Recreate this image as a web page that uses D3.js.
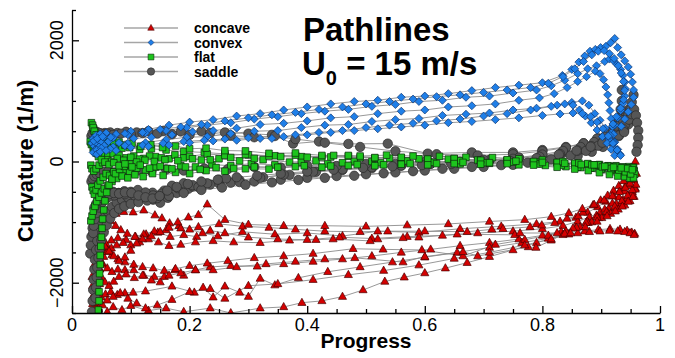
<!DOCTYPE html>
<html><head><meta charset="utf-8">
<script src="https://cdn.jsdelivr.net/npm/d3@7"></script>
<style>body{margin:0;background:#fff}svg{display:block;font-family:Arial,"Liberation Sans",sans-serif}</style>
</head><body><svg id="chart" width="675" height="358"></svg>
<script>
// Axis ticks
const xTicks = [0, 0.2, 0.4, 0.6, 0.8, 1];
const yTicks = [-2000, 0, 2000];
const categories = ["concave", "convex", "flat", "saddle"];

// Pathlines per surface type: each entry is one pathline of [progress, curvature (1/m)]
const concave = [
 [[0.04,-1400],[0.041,-1300],[0.043,-1200],[0.046,-1110],[0.05,-1030],[0.056,-960],[0.064,-900],[0.075,-860],[0.088,-830],[0.104,-836],[0.122,-804],[0.141,-885],[0.153,-935],[0.166,-1017],[0.182,-1060],[0.2,-1120],[0.222,-1180],[0.248,-1230],[0.29,-1160],[0.345,-1200],[0.4,-1180],[0.46,-1230],[0.52,-1150],[0.59,-1170],[0.66,-1110],[0.73,-1070],[0.79,-1030],[0.83,-990],[0.857,-925],[0.877,-840],[0.894,-750],[0.908,-660],[0.921,-570],[0.932,-480],[0.942,-390],[0.95,-300],[0.956,-210]],
 [[0.036,-2050],[0.037,-1900],[0.039,-1760],[0.042,-1630],[0.046,-1520],[0.051,-1430],[0.058,-1360],[0.067,-1300],[0.078,-1260],[0.092,-1290],[0.108,-1240],[0.126,-1200],[0.146,-1170],[0.167,-1240],[0.19,-1210],[0.212,-1240],[0.235,-1140],[0.26,-1180],[0.3,-1250],[0.35,-1280],[0.4,-1290],[0.455,-1250],[0.51,-1270],[0.57,-1240],[0.63,-1220],[0.69,-1180],[0.75,-1150],[0.8,-1110],[0.835,-1060],[0.86,-990],[0.88,-915],[0.898,-840],[0.913,-770],[0.926,-700],[0.937,-630],[0.946,-565],[0.953,-500],[0.958,-440]],
 [[0.035,-2350],[0.036,-2220],[0.038,-2090],[0.04,-1970],[0.043,-1860],[0.047,-1770],[0.053,-1700],[0.06,-1760],[0.068,-1820],[0.078,-1780],[0.09,-1790],[0.105,-1790],[0.122,-1880],[0.14,-1900],[0.157,-1900],[0.175,-1790],[0.19,-1880],[0.21,-1790],[0.235,-1740],[0.27,-1720],[0.315,-1730],[0.36,-1690],[0.41,-1650],[0.46,-1610],[0.51,-1560],[0.56,-1500],[0.61,-1450],[0.66,-1390],[0.71,-1340],[0.76,-1280],[0.8,-1220],[0.832,-1160],[0.857,-1090],[0.878,-1010],[0.896,-930],[0.911,-850],[0.924,-770],[0.935,-690],[0.944,-610],[0.952,-530],[0.958,-460]],
 [[0.04,-2480],[0.042,-2390],[0.045,-2310],[0.05,-2240],[0.057,-2190],[0.066,-2150],[0.077,-2200],[0.09,-2170],[0.104,-2160],[0.125,-2140],[0.17,-2060],[0.208,-2160],[0.223,-2080],[0.24,-2240],[0.26,-2060],[0.285,-2160],[0.3,-2230],[0.32,-1930],[0.345,-2040],[0.385,-1920],[0.435,-1820],[0.49,-1740],[0.545,-1660],[0.6,-1580],[0.655,-1500],[0.71,-1420],[0.765,-1340],[0.81,-1270],[0.845,-1200],[0.872,-1150],[0.895,-1125],[0.915,-1110],[0.932,-1120],[0.944,-1140],[0.952,-1170],[0.957,-1190]],
 [[0.06,-2480],[0.07,-2400],[0.085,-2450],[0.1,-2380],[0.13,-2460],[0.16,-2420],[0.19,-2480],[0.235,-2420],[0.27,-2500],[0.32,-2420],[0.36,-2400],[0.391,-2330],[0.425,-2300],[0.46,-2230],[0.495,-2120],[0.532,-1980],[0.565,-1910],[0.6,-1840],[0.635,-1760],[0.672,-1670],[0.71,-1570],[0.75,-1460],[0.79,-1340],[0.835,-1210],[0.86,-1180],[0.88,-1160],[0.898,-1150],[0.914,-1140],[0.928,-1150],[0.94,-1160],[0.949,-1180],[0.956,-1210]],
 [[0.038,-1700],[0.04,-1600],[0.043,-1510],[0.047,-1430],[0.053,-1380],[0.06,-1460],[0.068,-1540],[0.078,-1610],[0.09,-1660],[0.105,-1700],[0.12,-1740],[0.138,-1760],[0.157,-1800],[0.176,-1770],[0.2,-1720],[0.23,-1680],[0.265,-1640],[0.31,-1590],[0.36,-1560],[0.41,-1520],[0.478,-1440],[0.529,-1450],[0.595,-1460],[0.665,-1560],[0.72,-1370],[0.77,-1290],[0.81,-1220],[0.84,-1150],[0.864,-1080],[0.884,-1000],[0.901,-930],[0.916,-860],[0.929,-790],[0.94,-720],[0.949,-650],[0.956,-580]],
 [[0.042,-2250],[0.044,-2130],[0.047,-2020],[0.051,-1920],[0.056,-1990],[0.063,-2050],[0.071,-1980],[0.08,-1900],[0.092,-1860],[0.106,-1920],[0.12,-1880],[0.135,-1960],[0.15,-1990],[0.165,-1880],[0.185,-1840],[0.21,-1790],[0.24,-1790],[0.28,-1740],[0.33,-1690],[0.38,-1650],[0.43,-1610],[0.481,-1590],[0.563,-1660],[0.6,-1570],[0.665,-1490],[0.69,-1560],[0.776,-1410],[0.789,-1420],[0.815,-1300],[0.838,-1190],[0.858,-1090],[0.876,-990],[0.892,-890],[0.906,-790],[0.919,-690],[0.93,-590],[0.94,-490],[0.948,-400],[0.955,-310]],
 [[0.045,-1900],[0.047,-1780],[0.05,-1670],[0.054,-1570],[0.06,-1490],[0.067,-1430],[0.076,-1380],[0.087,-1340],[0.1,-1380],[0.115,-1330],[0.13,-1280],[0.147,-1330],[0.165,-1390],[0.185,-1370],[0.21,-1330],[0.24,-1310],[0.275,-1330],[0.32,-1340],[0.37,-1300],[0.415,-1290],[0.444,-1280],[0.507,-1310],[0.52,-1280],[0.563,-1260],[0.59,-1250],[0.655,-1200],[0.753,-1210],[0.762,-1180],[0.825,-1180],[0.852,-1100],[0.874,-1010],[0.893,-920],[0.909,-830],[0.923,-740],[0.935,-650],[0.945,-560],[0.953,-470],[0.959,-380]],
 [[0.05,-1250],[0.052,-1180],[0.055,-1110],[0.06,-1040],[0.066,-980],[0.074,-1060],[0.083,-1130],[0.094,-1190],[0.107,-1240],[0.122,-1200],[0.14,-1150],[0.16,-1130],[0.185,-1100],[0.215,-1080],[0.25,-1030],[0.29,-1070],[0.335,-1090],[0.38,-1120],[0.43,-1150],[0.49,-1160],[0.537,-1150],[0.6,-1150],[0.672,-1160],[0.714,-1120],[0.733,-1110],[0.779,-1080],[0.799,-1050],[0.821,-1010],[0.842,-940],[0.861,-900],[0.869,-840],[0.886,-720],[0.899,-640],[0.911,-560],[0.921,-480],[0.93,-400],[0.938,-320],[0.945,-240],[0.951,-160],[0.955,-80],[0.958,0]],
 [[0.034,-1900],[0.035,-2050],[0.037,-2200],[0.04,-2330],[0.045,-2430],[0.052,-2370],[0.06,-2290],[0.07,-2230],[0.082,-2170],[0.095,-2260],[0.11,-2340],[0.125,-2420],[0.145,-2370],[0.17,-2280],[0.2,-2150],[0.235,-2100],[0.26,-2260],[0.3,-2050],[0.35,-2020],[0.41,-1950],[0.47,-1870],[0.53,-1800],[0.59,-1710],[0.65,-1600],[0.71,-1500],[0.77,-1380],[0.815,-1280],[0.848,-1180],[0.873,-1080],[0.893,-990],[0.91,-900],[0.924,-820],[0.936,-740],[0.946,-660],[0.954,-580]],
 [[0.036,-1000],[0.038,-1080],[0.041,-1160],[0.045,-1250],[0.05,-1330],[0.056,-1400],[0.063,-1480],[0.071,-1560],[0.08,-1640],[0.09,-1580],[0.1,-1470],[0.11,-1350],[0.12,-1280],[0.135,-1230],[0.15,-1160],[0.165,-1090],[0.18,-1000],[0.198,-920],[0.215,-880],[0.23,-705],[0.26,-960],[0.3,-1040],[0.36,-1060],[0.43,-1060],[0.5,-1070],[0.57,-1050],[0.64,-1030],[0.71,-990],[0.77,-960],[0.815,-910],[0.845,-850],[0.868,-780],[0.888,-710],[0.905,-640],[0.919,-570],[0.931,-500],[0.941,-430],[0.949,-360],[0.955,-290],[0.96,-200]]
];

const convex = [
 [[0.036,380],[0.041,430],[0.048,455],[0.058,470],[0.075,450],[0.1,500],[0.13,530],[0.165,600],[0.2,650],[0.24,690],[0.28,750],[0.32,790],[0.36,850],[0.4,900],[0.44,950],[0.48,990],[0.52,1010],[0.56,1060],[0.6,1080],[0.64,1120],[0.68,1170],[0.72,1220],[0.76,1260],[0.8,1300],[0.834,1420],[0.85,1520],[0.862,1640],[0.872,1740],[0.881,1820],[0.89,1850],[0.899,1880],[0.908,1900],[0.916,1960],[0.923,2030],[0.928,1880],[0.934,1760],[0.94,1660],[0.946,1560],[0.95,1440],[0.953,1310],[0.955,1180],[0.955,1060],[0.951,940],[0.946,820],[0.94,700],[0.934,580]],
 [[0.034,300],[0.039,340],[0.045,380],[0.054,400],[0.07,390],[0.095,440],[0.125,470],[0.16,510],[0.195,560],[0.23,600],[0.27,640],[0.31,700],[0.35,740],[0.39,790],[0.43,830],[0.47,860],[0.51,910],[0.55,940],[0.59,990],[0.63,1010],[0.67,1060],[0.71,1080],[0.75,1130],[0.79,1180],[0.815,1250],[0.838,1340],[0.86,1450],[0.877,1530],[0.892,1580],[0.906,1650],[0.914,1690],[0.921,1660],[0.927,1600],[0.933,1520],[0.937,1420],[0.94,1310],[0.941,1200],[0.94,1080],[0.937,960],[0.933,840],[0.928,720],[0.923,600],[0.918,480],[0.913,370]],
 [[0.038,250],[0.043,290],[0.05,310],[0.062,330],[0.08,310],[0.105,380],[0.135,400],[0.17,440],[0.205,490],[0.24,510],[0.28,550],[0.32,610],[0.36,630],[0.4,670],[0.44,720],[0.48,740],[0.52,790],[0.56,830],[0.6,850],[0.64,900],[0.68,920],[0.72,950],[0.76,1010],[0.795,1050],[0.82,1120],[0.842,1220],[0.86,1320],[0.875,1400],[0.89,1490],[0.898,1450],[0.904,1350],[0.908,1230],[0.911,1100],[0.913,970],[0.915,840],[0.917,710],[0.919,580],[0.921,450],[0.923,320],[0.925,200]],
 [[0.04,200],[0.046,240],[0.055,260],[0.07,240],[0.095,300],[0.125,310],[0.16,360],[0.195,400],[0.23,410],[0.27,460],[0.31,500],[0.35,510],[0.39,560],[0.43,600],[0.47,610],[0.51,660],[0.55,690],[0.59,710],[0.63,760],[0.67,780],[0.71,800],[0.75,850],[0.79,880],[0.825,930],[0.85,975],[0.868,1000],[0.879,930],[0.889,790],[0.898,680],[0.907,550],[0.915,430],[0.922,310],[0.928,200],[0.932,120]],
 [[0.036,150],[0.042,190],[0.05,220],[0.065,205],[0.09,260],[0.12,270],[0.155,300],[0.19,330],[0.225,350],[0.26,370],[0.3,390],[0.34,380],[0.38,440],[0.42,480],[0.46,510],[0.5,560],[0.54,600],[0.58,630],[0.62,670],[0.66,700],[0.7,750],[0.74,790],[0.78,850],[0.815,910],[0.838,950],[0.852,930],[0.863,850],[0.873,750],[0.883,640],[0.893,520],[0.902,410],[0.91,300],[0.917,200],[0.923,100]],
 [[0.042,120],[0.048,160],[0.058,180],[0.075,180],[0.1,230],[0.13,250],[0.165,270],[0.2,310],[0.24,340],[0.28,350],[0.32,380],[0.36,410],[0.4,440],[0.44,480],[0.48,510],[0.52,540],[0.56,570],[0.6,600],[0.64,640],[0.68,660],[0.72,690],[0.76,720],[0.8,760],[0.83,785],[0.852,800],[0.868,790],[0.882,740],[0.893,650],[0.903,540],[0.912,420],[0.92,300],[0.927,190],[0.933,100]],
 [[0.037,340],[0.043,380],[0.052,410],[0.066,400],[0.09,460],[0.12,480],[0.15,530],[0.185,570],[0.22,610],[0.26,670],[0.3,720],[0.34,770],[0.38,810],[0.42,860],[0.46,900],[0.5,950],[0.54,990],[0.58,1030],[0.62,1070],[0.66,1100],[0.7,1140],[0.74,1180],[0.78,1220],[0.81,1290],[0.835,1400],[0.855,1530],[0.87,1650],[0.884,1760],[0.895,1820],[0.905,1830],[0.914,1780],[0.922,1700],[0.929,1580],[0.934,1460],[0.938,1320],[0.94,1170],[0.938,1020],[0.933,880],[0.926,740],[0.92,620]]
];

const flat = [
 [[0.033,640],[0.035,600],[0.037,540],[0.04,470],[0.043,400],[0.047,350],[0.052,320],[0.058,290],[0.065,260],[0.074,240],[0.085,220],[0.098,230],[0.115,200],[0.135,210],[0.16,190],[0.19,165],[0.225,150],[0.26,125],[0.3,110],[0.345,95],[0.39,80],[0.44,75],[0.49,65],[0.54,55],[0.59,45],[0.64,40],[0.69,25],[0.74,15],[0.79,-10],[0.83,-30],[0.86,-45],[0.88,-60],[0.897,-50],[0.912,-70],[0.925,-70],[0.937,-90],[0.947,-85],[0.955,-95]],
 [[0.031,330],[0.033,280],[0.036,220],[0.039,170],[0.043,130],[0.048,160],[0.054,120],[0.061,90],[0.07,130],[0.08,100],[0.092,60],[0.105,90],[0.122,50],[0.142,80],[0.165,45],[0.19,60],[0.22,25],[0.25,45],[0.285,10],[0.325,30],[0.37,-10],[0.415,10],[0.46,-20],[0.51,0],[0.56,-30],[0.61,-15],[0.66,-40],[0.71,-30],[0.76,-55],[0.805,-65],[0.84,-85],[0.865,-100],[0.885,-110],[0.902,-125],[0.917,-145],[0.93,-155],[0.941,-170],[0.95,-185]],
 [[0.032,-60],[0.034,-120],[0.037,-160],[0.041,-120],[0.046,-60],[0.052,-20],[0.059,30],[0.067,0],[0.077,50],[0.088,20],[0.1,70],[0.115,40],[0.132,90],[0.152,60],[0.175,110],[0.2,85],[0.23,125],[0.26,100],[0.295,115],[0.335,90],[0.38,105],[0.425,75],[0.47,85],[0.515,55],[0.56,60],[0.605,35],[0.65,45],[0.695,15],[0.74,20],[0.785,-5],[0.825,-25],[0.855,-45],[0.878,-45],[0.897,-70],[0.914,-85],[0.928,-105],[0.94,-115],[0.95,-125],[0.956,-150]],
 [[0.034,-420],[0.036,-480],[0.038,-540],[0.041,-470],[0.044,-390],[0.048,-320],[0.053,-260],[0.058,-200],[0.064,-230],[0.071,-170],[0.079,-200],[0.088,-140],[0.098,-170],[0.11,-110],[0.125,-140],[0.142,-90],[0.162,-115],[0.185,-70],[0.21,-90],[0.238,-50],[0.27,-70],[0.305,-35],[0.345,-55],[0.39,-15],[0.435,-40],[0.48,0],[0.525,-20],[0.57,10],[0.615,-15],[0.66,15],[0.705,-20],[0.75,-10],[0.795,-40],[0.832,-65],[0.86,-95],[0.882,-110],[0.9,-125],[0.916,-155],[0.93,-170],[0.942,-185],[0.951,-215],[0.957,-210]],
 [[0.036,560],[0.038,500],[0.041,440],[0.045,380],[0.05,330],[0.056,300],[0.063,340],[0.071,290],[0.08,320],[0.09,270],[0.102,300],[0.117,250],[0.134,280],[0.154,230],[0.176,255],[0.2,210],[0.228,220],[0.26,180],[0.295,175],[0.335,135],[0.38,140],[0.425,100],[0.47,100],[0.515,65],[0.56,70],[0.605,40],[0.65,50],[0.695,20],[0.74,30],[0.785,0],[0.825,-15],[0.855,-30],[0.877,-35],[0.895,-55],[0.911,-75],[0.925,-80],[0.937,-95],[0.947,-105],[0.954,-100]],
 [[0.032,-980],[0.034,-900],[0.036,-820],[0.039,-740],[0.042,-660],[0.046,-590],[0.05,-520],[0.055,-450],[0.061,-390],[0.068,-330],[0.076,-280],[0.085,-240],[0.095,-270],[0.107,-220],[0.121,-250],[0.137,-200],[0.155,-230],[0.176,-180],[0.2,-200],[0.228,-150],[0.26,-160],[0.295,-120],[0.335,-125],[0.38,-85],[0.425,-95],[0.47,-65],[0.515,-70],[0.56,-45],[0.605,-55],[0.65,-35],[0.695,-45],[0.74,-35],[0.785,-60],[0.825,-95],[0.855,-125],[0.878,-150],[0.897,-185],[0.914,-215],[0.928,-240],[0.94,-250],[0.949,-275],[0.955,-270]],
 [[0.045,-2450],[0.046,-2300],[0.046,-2150],[0.047,-2000],[0.047,-1850],[0.048,-1700],[0.048,-1550],[0.049,-1400],[0.05,-1250],[0.051,-1100],[0.052,-950],[0.054,-800],[0.056,-650],[0.059,-510],[0.063,-390],[0.068,-290],[0.074,-200],[0.081,-130],[0.089,-80],[0.098,-40],[0.11,-10],[0.124,20],[0.14,0],[0.158,30],[0.18,15],[0.205,45],[0.235,30],[0.27,65],[0.31,50],[0.355,80],[0.4,70],[0.445,100],[0.49,90],[0.535,105],[0.58,90],[0.625,85],[0.67,70],[0.715,65],[0.76,45],[0.8,25],[0.835,0],[0.862,-25],[0.884,-55],[0.902,-90],[0.917,-115],[0.93,-140],[0.941,-170],[0.95,-205]],
 [[0.038,200],[0.041,140],[0.045,80],[0.05,30],[0.056,-10],[0.063,-50],[0.071,-20],[0.08,-70],[0.09,-40],[0.102,-90],[0.116,-60],[0.132,-110],[0.15,-80],[0.17,-120],[0.193,-90],[0.218,-130],[0.245,-100],[0.275,-115],[0.31,-90],[0.35,-95],[0.395,-70],[0.44,-75],[0.485,-50],[0.53,-55],[0.575,-35],[0.62,-35],[0.665,-15],[0.71,-20],[0.755,5],[0.8,-15],[0.838,-30],[0.866,-50],[0.888,-55],[0.906,-80],[0.921,-95],[0.934,-105],[0.945,-115],[0.953,-135]]
];

const saddle = [
 [[0.034,300],[0.036,360],[0.039,410],[0.043,440],[0.049,460],[0.056,470],[0.065,480],[0.077,470],[0.092,490],[0.11,480],[0.13,500],[0.155,505],[0.185,495],[0.22,500],[0.26,480],[0.3,460],[0.34,440],[0.376,295],[0.42,330],[0.47,290],[0.537,295],[0.605,130],[0.68,150],[0.75,150],[0.8,190],[0.84,240],[0.87,300],[0.895,380],[0.915,480],[0.93,600],[0.94,730],[0.947,860],[0.952,980],[0.955,1100]],
 [[0.033,420],[0.035,470],[0.038,500],[0.042,490],[0.047,470],[0.053,450],[0.06,460],[0.07,440],[0.083,460],[0.1,450],[0.12,470],[0.145,460],[0.17,450],[0.2,440],[0.235,470],[0.27,430],[0.31,400],[0.345,420],[0.38,370],[0.43,310],[0.49,240],[0.55,170],[0.62,120],[0.69,100],[0.75,120],[0.8,170],[0.84,230],[0.87,300],[0.893,380],[0.91,480],[0.922,590],[0.929,720],[0.933,860],[0.935,1000],[0.935,1180]],
 [[0.031,-1520],[0.032,-1380],[0.033,-1240],[0.035,-1100],[0.037,-960],[0.04,-830],[0.044,-720],[0.049,-630],[0.055,-560],[0.062,-520],[0.07,-500],[0.079,-520],[0.089,-490],[0.1,-530],[0.112,-510],[0.125,-560],[0.138,-630],[0.15,-680],[0.163,-600],[0.178,-520],[0.198,-450],[0.222,-400],[0.25,-360],[0.285,-310],[0.325,-260],[0.37,-220],[0.415,-170],[0.46,-140],[0.51,-110],[0.56,-70],[0.61,-40],[0.66,-10],[0.71,20],[0.76,60],[0.8,100],[0.835,150],[0.865,200],[0.888,260],[0.907,340],[0.921,430],[0.932,540],[0.94,650],[0.946,760],[0.95,860]],
 [[0.034,-2480],[0.035,-2300],[0.036,-2120],[0.037,-1950],[0.038,-1780],[0.039,-1620],[0.041,-1460],[0.043,-1310],[0.046,-1170],[0.05,-1040],[0.055,-930],[0.061,-830],[0.068,-750],[0.076,-680],[0.085,-630],[0.095,-590],[0.106,-560],[0.12,-540],[0.137,-515],[0.157,-480],[0.18,-440],[0.205,-410],[0.235,-380],[0.27,-350],[0.31,-330],[0.355,-300],[0.4,-270],[0.45,-240],[0.5,-210],[0.55,-180],[0.6,-150],[0.65,-120],[0.7,-90],[0.75,-55],[0.795,-20],[0.83,30],[0.86,90],[0.884,160],[0.903,240],[0.918,330],[0.93,420],[0.939,510],[0.946,610],[0.95,720]],
 [[0.036,-1180],[0.037,-1060],[0.039,-950],[0.042,-850],[0.046,-760],[0.051,-680],[0.057,-620],[0.064,-580],[0.072,-560],[0.08,-520],[0.09,-540],[0.1,-500],[0.112,-470],[0.125,-510],[0.138,-560],[0.152,-530],[0.17,-400],[0.19,-360],[0.205,-390],[0.215,-420],[0.23,-360],[0.25,-300],[0.262,-280],[0.285,-340],[0.32,-270],[0.36,-215],[0.41,-170],[0.46,-130],[0.51,-95],[0.56,-65],[0.61,-35],[0.66,-5],[0.71,20],[0.76,65],[0.8,115],[0.835,175],[0.865,240],[0.888,320],[0.906,410],[0.92,500],[0.93,590],[0.937,680]],
 [[0.033,-330],[0.035,-280],[0.038,-240],[0.042,-210],[0.047,-190],[0.054,-170],[0.062,-160],[0.072,-180],[0.084,-150],[0.098,-170],[0.115,-140],[0.135,-160],[0.16,-130],[0.19,-150],[0.225,-115],[0.265,-125],[0.31,-90],[0.355,-100],[0.4,-70],[0.45,-75],[0.5,-40],[0.55,-40],[0.6,-5],[0.65,0],[0.7,30],[0.75,45],[0.795,80],[0.83,125],[0.86,180],[0.884,250],[0.903,330],[0.918,420],[0.93,510],[0.94,600],[0.947,690],[0.952,780],[0.956,860],[0.959,760],[0.961,640],[0.963,510],[0.963,390],[0.962,270],[0.96,160]],
 [[0.04,-2250],[0.041,-2080],[0.042,-1910],[0.043,-1750],[0.045,-1590],[0.047,-1440],[0.05,-1300],[0.054,-1170],[0.059,-1050],[0.065,-940],[0.072,-850],[0.08,-780],[0.089,-740],[0.1,-700],[0.113,-670],[0.128,-645],[0.145,-605],[0.165,-570],[0.19,-520],[0.22,-470],[0.255,-430],[0.295,-385],[0.34,-345],[0.385,-305],[0.43,-270],[0.48,-235],[0.53,-195],[0.58,-160],[0.63,-120],[0.68,-90],[0.73,-60],[0.775,-20],[0.815,35],[0.848,100],[0.874,175],[0.895,260],[0.912,350],[0.926,440],[0.937,540]],
 [[0.038,-760],[0.041,-700],[0.045,-650],[0.05,-600],[0.056,-560],[0.063,-540],[0.071,-520],[0.08,-530],[0.09,-510],[0.101,-520],[0.113,-560],[0.125,-590],[0.137,-610],[0.149,-570],[0.162,-480],[0.178,-420],[0.197,-370],[0.22,-330],[0.248,-300],[0.28,-260],[0.315,-235],[0.355,-200],[0.4,-165],[0.445,-135],[0.495,-105],[0.545,-80],[0.595,-60],[0.645,-40],[0.695,-20],[0.745,10],[0.79,55],[0.828,115],[0.858,180],[0.882,245],[0.902,310],[0.918,370],[0.93,430],[0.939,485]]
];

const seriesData = {concave, convex, flat, saddle};

const svg = d3.select("#chart");
const x = d3.scaleLinear().domain([0, 1]).range([72, 660]);
const y = d3.scaleLinear().domain([-2500, 2500]).range([313, 10]);

// Marker shapes and colours per surface type
const style = {
  concave: {fill: "#d40000", stroke: "#4a0000", shape: s => `M0,${-s*0.62}L${s*0.56},${s*0.38}L${-s*0.56},${s*0.38}Z`, size: 7.2},
  convex:  {fill: "#1f7fe8", stroke: "#0b3470", shape: s => `M0,${-s/2}L${s/2},0L0,${s/2}L${-s/2},0Z`, size: 8},
  flat:    {fill: "#1dc41d", stroke: "#0b2a0b", shape: s => `M${-s/2},${-s/2}h${s}v${s}h${-s}Z`, size: 6.6},
  saddle:  {fill: "#565656", stroke: "#2a2a2a", shape: s => d3.arc()({innerRadius: 0, outerRadius: s/2, startAngle: 0, endAngle: 2*Math.PI}), size: 9.4}
};

svg.append("defs").append("clipPath").attr("id", "plotClip")
  .append("rect").attr("x", 72).attr("y", 10).attr("width", 588).attr("height", 303);

const plot = svg.append("g").attr("clip-path", "url(#plotClip)");
const line = d3.line().x(d => x(d[0])).y(d => y(d[1]));

// Connecting lines of every pathline
categories.forEach(cat => {
  plot.append("g").selectAll("path").data(seriesData[cat]).join("path")
    .attr("d", line).attr("fill", "none").attr("stroke", "#8c8c8c").attr("stroke-width", 0.9);
});

// Symbols, drawn per category
["concave", "saddle", "flat", "convex"].forEach(cat => {
  const st = style[cat];
  const pts = seriesData[cat].flat();
  plot.append("g").selectAll("path").data(pts).join("path")
    .attr("transform", d => `translate(${x(d[0])},${y(d[1])})`)
    .attr("d", st.shape(st.size)).attr("fill", st.fill)
    .attr("stroke", st.stroke).attr("stroke-width", 0.7);
});

// Axes: ticks point into the plot
const axisG = svg.append("g");
const yMinor = d3.range(-2500, 2501, 500).filter(v => !yTicks.includes(v));
const xMinor = d3.range(0, 1.0001, 0.05).map(v => +v.toFixed(2)).filter(v => !xTicks.includes(v));

axisG.append("g").attr("transform", "translate(72,0)")
  .call(d3.axisLeft(y).tickValues(yTicks).tickSizeInner(-7).tickSizeOuter(0).tickFormat(""));
axisG.append("g").attr("transform", "translate(72,0)")
  .call(d3.axisLeft(y).tickValues(yMinor).tickSizeInner(-4).tickSizeOuter(0).tickFormat(""))
  .select(".domain").remove();
axisG.append("g").attr("transform", "translate(0,313)")
  .call(d3.axisBottom(x).tickValues(xTicks).tickSizeInner(-7).tickSizeOuter(0).tickFormat(""));
axisG.append("g").attr("transform", "translate(0,313)")
  .call(d3.axisBottom(x).tickValues(xMinor).tickSizeInner(-4).tickSizeOuter(0).tickFormat(""))
  .select(".domain").remove();
axisG.selectAll("path.domain, line").attr("stroke", "#000").attr("stroke-width", 1.3);

// Tick labels
svg.append("g").selectAll("text").data(yTicks).join("text")
  .attr("transform", d => `translate(63,${y(d)}) rotate(-90)`)
  .attr("text-anchor", "middle").attr("font-size", 18).attr("fill", "#000")
  .text(d => d3.format("d")(d));
svg.append("g").selectAll("text").data(xTicks).join("text")
  .attr("x", d => x(d)).attr("y", 331)
  .attr("text-anchor", "middle").attr("font-size", 18).attr("fill", "#000")
  .text(d => d === 0 || d === 1 ? String(d) : d3.format(".1f")(d));

// Axis titles
svg.append("text").attr("x", 366).attr("y", 348).attr("text-anchor", "middle")
  .attr("font-size", 21).attr("font-weight", "bold").text("Progress");
svg.append("text").attr("transform", "translate(33,161) rotate(-90)").attr("text-anchor", "middle")
  .attr("font-size", 22).attr("font-weight", "bold").text("Curvature (1/m)");

// Title block
svg.append("text").attr("x", 303).attr("y", 41).attr("font-size", 33).attr("font-weight", "bold").text("Pathlines");
const t2 = svg.append("text").attr("x", 302).attr("y", 75).attr("font-size", 33).attr("font-weight", "bold");
t2.append("tspan").text("U");
t2.append("tspan").attr("font-size", 20).attr("dy", 10).text("0");
t2.append("tspan").attr("dy", -10).text(" = 15 m/s");

// Legend
const leg = svg.append("g");
categories.forEach((cat, i) => {
  const cy = 28 + i * 14.5;
  const st = style[cat];
  leg.append("line").attr("x1", 124).attr("x2", 178).attr("y1", cy).attr("y2", cy)
    .attr("stroke", "#a6a6a6").attr("stroke-width", 1.6);
  leg.append("path").attr("transform", `translate(151,${cy})`)
    .attr("d", st.shape(cat === "saddle" ? 7.4 : 5.8)).attr("fill", st.fill)
    .attr("stroke", st.stroke).attr("stroke-width", 0.6);
  leg.append("text").attr("x", 194).attr("y", cy + 5).attr("font-size", 14)
    .attr("font-weight", "bold").text(cat);
});
</script>
</body></html>
